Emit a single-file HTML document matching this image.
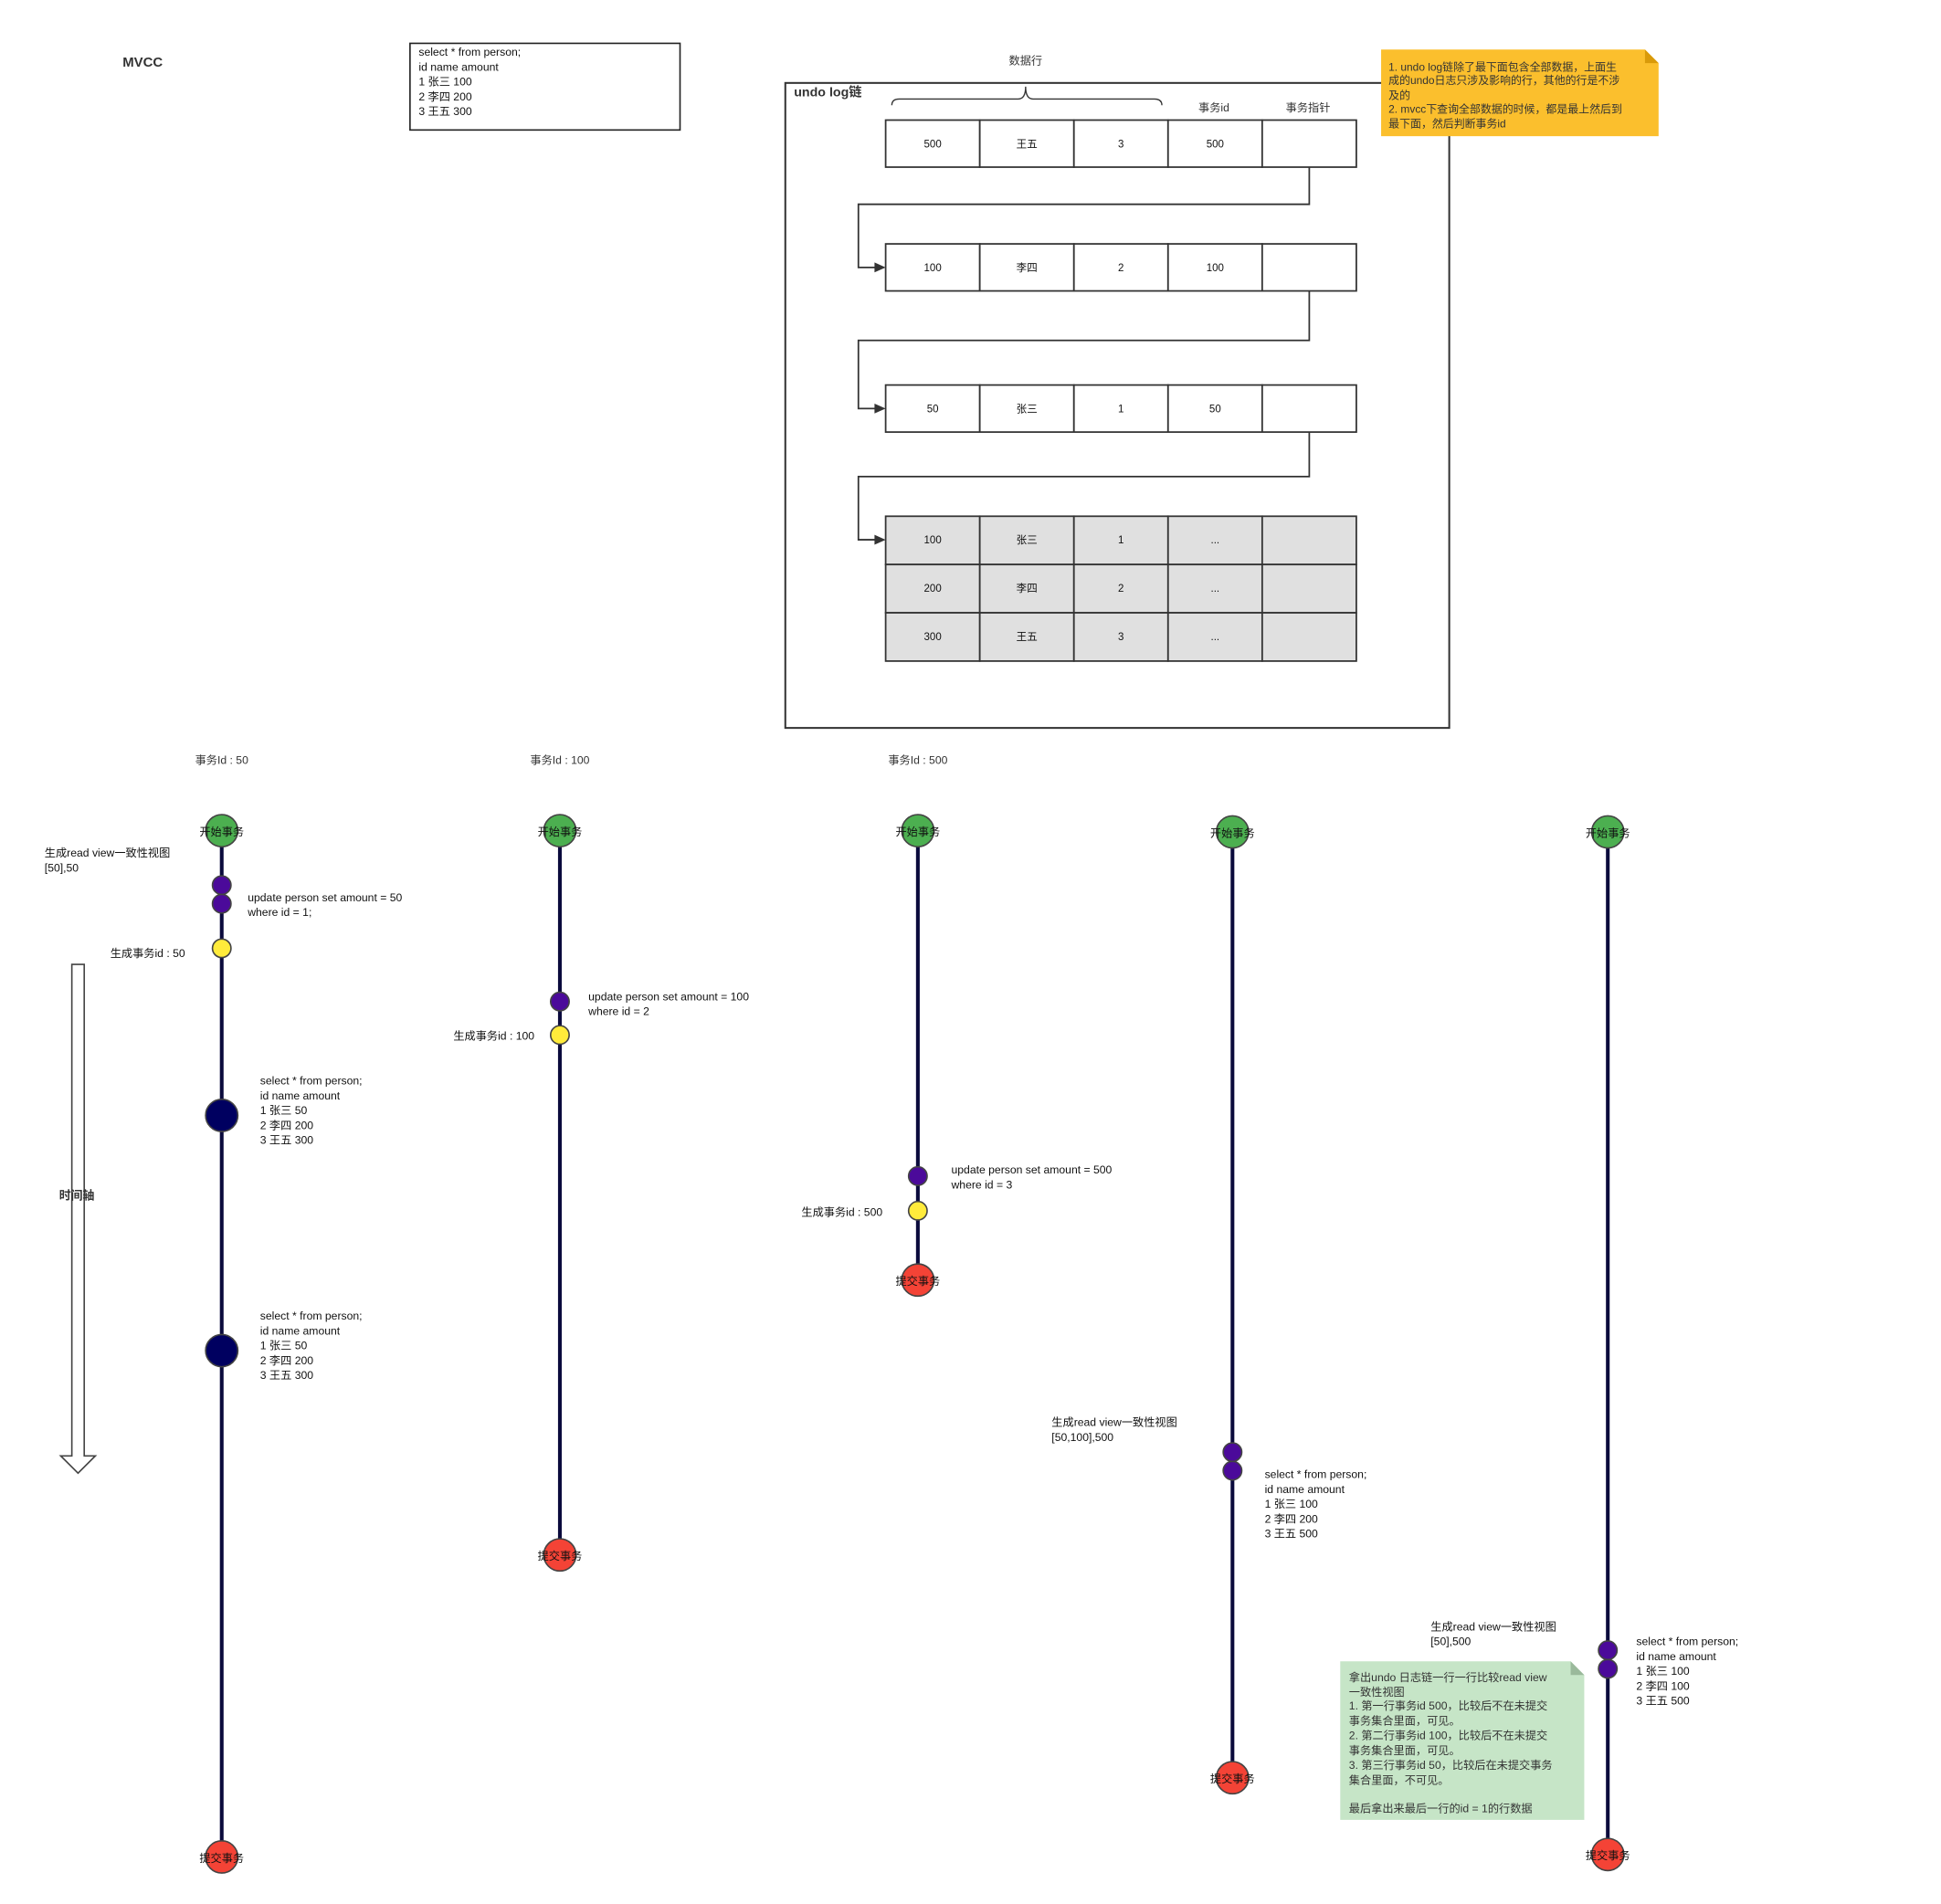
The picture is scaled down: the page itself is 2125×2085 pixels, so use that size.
<!DOCTYPE html>
<html><head><meta charset="utf-8"><style>
html,body{margin:0;padding:0;background:#fff;}
svg{display:block;}
text{font-family:"Liberation Sans","Noto Sans CJK SC",sans-serif;fill:#111;font-size:9px;}
.h{text-anchor:middle;}
.c{text-anchor:middle;font-size:8.5px;}
.b{font-weight:bold;}
.lab{font-size:9px;fill:#333;}
</style></head><body>
<svg width="2125" height="2085" viewBox="0 0 1567 1538" preserveAspectRatio="none" xmlns="http://www.w3.org/2000/svg">
<rect width="1567" height="1538" fill="#fff"/>
<text x="99" y="54" class="b" style="font-size:11px;fill:#333">MVCC</text>
<rect x="331" y="35" width="218" height="70" fill="#fff" stroke="#222" stroke-width="1.2"/>
<text x="338" y="45">select * from person;</text>
<text x="338" y="57">id name amount</text>
<text x="338" y="69">1 张三 100</text>
<text x="338" y="81">2 李四 200</text>
<text x="338" y="93">3 王五 300</text>

<rect x="634" y="67" width="536" height="521" fill="none" stroke="#333" stroke-width="1.5"/>
<text x="641" y="78" class="b" style="font-size:10.5px;fill:#333">undo log链</text>
<text x="828" y="52" class="h lab">数据行</text>
<path d="M720,85 Q720,80 726,80 L822,80 Q828,80 828,70 Q828,80 834,80 L932,80 Q938,80 938,85" fill="none" stroke="#333" stroke-width="1"/>
<text x="980" y="90" class="h lab">事务id</text>
<text x="1056" y="90" class="h lab">事务指针</text>

<g stroke="#333" stroke-width="1.3" fill="#fff">
<rect x="715" y="97" width="76" height="38"/><rect x="791" y="97" width="76" height="38"/><rect x="867" y="97" width="76" height="38"/><rect x="943" y="97" width="76" height="38"/><rect x="1019" y="97" width="76" height="38"/>
<rect x="715" y="197" width="76" height="38"/><rect x="791" y="197" width="76" height="38"/><rect x="867" y="197" width="76" height="38"/><rect x="943" y="197" width="76" height="38"/><rect x="1019" y="197" width="76" height="38"/>
<rect x="715" y="311" width="76" height="38"/><rect x="791" y="311" width="76" height="38"/><rect x="867" y="311" width="76" height="38"/><rect x="943" y="311" width="76" height="38"/><rect x="1019" y="311" width="76" height="38"/>
</g>
<g stroke="#333" stroke-width="1.3" fill="#e0e0e0">
<rect x="715" y="417" width="76" height="39"/><rect x="791" y="417" width="76" height="39"/><rect x="867" y="417" width="76" height="39"/><rect x="943" y="417" width="76" height="39"/><rect x="1019" y="417" width="76" height="39"/>
<rect x="715" y="456" width="76" height="39"/><rect x="791" y="456" width="76" height="39"/><rect x="867" y="456" width="76" height="39"/><rect x="943" y="456" width="76" height="39"/><rect x="1019" y="456" width="76" height="39"/>
<rect x="715" y="495" width="76" height="39"/><rect x="791" y="495" width="76" height="39"/><rect x="867" y="495" width="76" height="39"/><rect x="943" y="495" width="76" height="39"/><rect x="1019" y="495" width="76" height="39"/>
</g>
<g>
<text x="753" y="119" class="c">500</text><text x="829" y="119" class="c">王五</text><text x="905" y="119" class="c">3</text><text x="981" y="119" class="c">500</text>
<text x="753" y="219" class="c">100</text><text x="829" y="219" class="c">李四</text><text x="905" y="219" class="c">2</text><text x="981" y="219" class="c">100</text>
<text x="753" y="333" class="c">50</text><text x="829" y="333" class="c">张三</text><text x="905" y="333" class="c">1</text><text x="981" y="333" class="c">50</text>
<text x="753" y="439" class="c">100</text><text x="829" y="439" class="c">张三</text><text x="905" y="439" class="c">1</text><text x="981" y="439" class="c">...</text>
<text x="753" y="478" class="c">200</text><text x="829" y="478" class="c">李四</text><text x="905" y="478" class="c">2</text><text x="981" y="478" class="c">...</text>
<text x="753" y="517" class="c">300</text><text x="829" y="517" class="c">王五</text><text x="905" y="517" class="c">3</text><text x="981" y="517" class="c">...</text>
</g>
<g fill="none" stroke="#333" stroke-width="1.3">
<path d="M1057,135 V165 H693 V216 H707"/>
<path d="M1057,235 V275 H693 V330 H707"/>
<path d="M1057,349 V385 H693 V436 H707"/>
</g>
<g fill="#333">
<path d="M715,216 l-9,-4 v8z"/><path d="M715,330 l-9,-4 v8z"/><path d="M715,436 l-9,-4 v8z"/>
</g>

<path d="M1115,40 H1328 L1339,51 V110 H1115 Z" fill="#fbbf2d"/>
<path d="M1328,40 L1339,51 H1328 Z" fill="#d99a0a"/>
<g>
<text x="1121" y="57" style="font-size:8.8px;fill:#333">1. undo log链除了最下面包含全部数据，上面生</text>
<text x="1121" y="68" style="font-size:8.8px;fill:#333">成的undo日志只涉及影响的行，其他的行是不涉</text>
<text x="1121" y="80" style="font-size:8.8px;fill:#333">及的</text>
<text x="1121" y="91" style="font-size:8.8px;fill:#333">2. mvcc下查询全部数据的时候，都是最上然后到</text>
<text x="1121" y="103" style="font-size:8.8px;fill:#333">最下面，然后判断事务id</text>
</g>

<path d="M58,779 H68 V1176 H77 L63,1190 L49,1176 H58 Z" fill="#fff" stroke="#444" stroke-width="1.2"/>
<text x="62" y="969" class="h b" style="font-size:9.5px;fill:#333">时间轴</text>

<g stroke="#0a0a3c" stroke-width="3">
<line x1="179" y1="671" x2="179" y2="1500"/>
<line x1="452" y1="671" x2="452" y2="1256"/>
<line x1="741" y1="671" x2="741" y2="1034"/>
<line x1="995" y1="672" x2="995" y2="1436"/>
<line x1="1298" y1="672" x2="1298" y2="1498"/>
</g>
<g stroke="#444" stroke-width="1.2">
<circle cx="179" cy="671" r="13" fill="#4caf50"/>
<circle cx="452" cy="671" r="13" fill="#4caf50"/>
<circle cx="741" cy="671" r="13" fill="#4caf50"/>
<circle cx="995" cy="672" r="13" fill="#4caf50"/>
<circle cx="1298" cy="672" r="13" fill="#4caf50"/>
<circle cx="179" cy="1500" r="13" fill="#f44336"/>
<circle cx="452" cy="1256" r="13" fill="#f44336"/>
<circle cx="741" cy="1034" r="13" fill="#f44336"/>
<circle cx="995" cy="1436" r="13" fill="#f44336"/>
<circle cx="1298" cy="1498" r="13" fill="#f44336"/>
<circle cx="179" cy="715" r="7.5" fill="#4b0a9a"/><circle cx="179" cy="730" r="7.5" fill="#4b0a9a"/>
<circle cx="179" cy="766" r="7.5" fill="#ffeb3b"/>
<circle cx="179" cy="901" r="13" fill="#000060"/>
<circle cx="179" cy="1091" r="13" fill="#000060"/>
<circle cx="452" cy="809" r="7.5" fill="#4b0a9a"/><circle cx="452" cy="836" r="7.5" fill="#ffeb3b"/>
<circle cx="741" cy="950" r="7.5" fill="#4b0a9a"/><circle cx="741" cy="978" r="7.5" fill="#ffeb3b"/>
<circle cx="995" cy="1173" r="7.5" fill="#4b0a9a"/><circle cx="995" cy="1188" r="7.5" fill="#4b0a9a"/>
<circle cx="1298" cy="1333" r="7.5" fill="#4b0a9a"/><circle cx="1298" cy="1348" r="7.5" fill="#4b0a9a"/>
</g>
<g>
<text x="179" y="675" class="h">开始事务</text><text x="452" y="675" class="h">开始事务</text><text x="741" y="675" class="h">开始事务</text><text x="995" y="676" class="h">开始事务</text><text x="1298" y="676" class="h">开始事务</text>
<text x="179" y="1504" class="h">提交事务</text><text x="452" y="1260" class="h">提交事务</text><text x="741" y="1038" class="h">提交事务</text><text x="995" y="1440" class="h">提交事务</text><text x="1298" y="1502" class="h">提交事务</text>
</g>
<text x="179" y="617" class="h lab">事务Id : 50</text>
<text x="452" y="617" class="h lab">事务Id : 100</text>
<text x="741" y="617" class="h lab">事务Id : 500</text>

<text x="36" y="692">生成read view一致性视图</text><text x="36" y="704">[50],50</text>
<text x="200" y="728">update person set amount = 50</text><text x="200" y="740">where id = 1;</text>
<text x="89" y="773">生成事务id : 50</text>
<text x="210" y="876">select * from person;</text><text x="210" y="888">id name amount</text><text x="210" y="900">1 张三 50</text><text x="210" y="912">2 李四 200</text><text x="210" y="924">3 王五 300</text>
<text x="210" y="1066">select * from person;</text><text x="210" y="1078">id name amount</text><text x="210" y="1090">1 张三 50</text><text x="210" y="1102">2 李四 200</text><text x="210" y="1114">3 王五 300</text>

<text x="475" y="808">update person set amount = 100</text><text x="475" y="820">where id  = 2</text>
<text x="366" y="840">生成事务id : 100</text>

<text x="768" y="948">update person set amount = 500</text><text x="768" y="960">where id  = 3</text>
<text x="647" y="982">生成事务id : 500</text>

<text x="849" y="1152">生成read view一致性视图</text><text x="849" y="1164">[50,100],500</text>
<text x="1021" y="1194">select * from person;</text><text x="1021" y="1206">id name amount</text><text x="1021" y="1218">1 张三 100</text><text x="1021" y="1230">2 李四 200</text><text x="1021" y="1242">3 王五 500</text>

<text x="1155" y="1317">生成read view一致性视图</text><text x="1155" y="1329">[50],500</text>
<text x="1321" y="1329">select * from person;</text><text x="1321" y="1341">id name amount</text><text x="1321" y="1353">1 张三 100</text><text x="1321" y="1365">2 李四 100</text><text x="1321" y="1377">3 王五 500</text>

<path d="M1082,1342 H1268 L1279,1353 V1470 H1082 Z" fill="#c6e5c7"/>
<path d="M1268,1342 L1279,1353 H1268 Z" fill="#9ab99b"/>
<g>
<text x="1089" y="1358" style="fill:#333">拿出undo 日志链一行一行比较read view</text>
<text x="1089" y="1370" style="fill:#333">一致性视图</text>
<text x="1089" y="1381" style="fill:#333">1. 第一行事务id 500，比较后不在未提交</text>
<text x="1089" y="1393" style="fill:#333">事务集合里面，可见。</text>
<text x="1089" y="1405" style="fill:#333">2. 第二行事务id 100，比较后不在未提交</text>
<text x="1089" y="1417" style="fill:#333">事务集合里面，可见。</text>
<text x="1089" y="1429" style="fill:#333">3. 第三行事务id 50，比较后在未提交事务</text>
<text x="1089" y="1441" style="fill:#333">集合里面，不可见。</text>
<text x="1089" y="1464" style="fill:#333">最后拿出来最后一行的id = 1的行数据</text>
</g>
</svg>
</body></html>
